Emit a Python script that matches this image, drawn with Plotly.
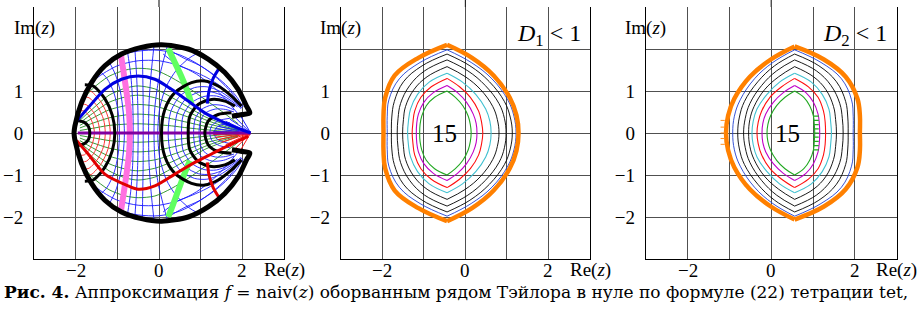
import plotly.graph_objects as go

W, H = 919, 309
FONT = "Liberation Serif"
CAPFONT = "DejaVu Serif"

# ---------------- Panel 1 data (upper halves; figure is mirror-symmetric) ----------------
BND_X = [1.75, 2.0, 2.18, 2.1, 1.9, 1.58, 1.18, 0.7, 0.06, -0.42, -0.9, -1.3, -1.62, -1.86, -2.02, -2.04]
BND_Y = [0.4, 0.44, 0.48, 0.64, 1.04, 1.44, 1.76, 2.0, 2.1, 2.04, 1.88, 1.6, 1.2, 0.72, 0.16, 0.0]

BLUE_X = [-1.98, -1.7, -1.3, -0.9, -0.5, -0.1, 0.3, 0.7, 1.1, 1.5, 1.98, 2.2]
BLUE_Y = [0.28, 0.6, 1.04, 1.28, 1.36, 1.28, 1.04, 0.76, 0.48, 0.28, 0.08, 0.0]
RED_X = [-1.98, -1.7, -1.3, -0.74, -0.5, -0.1, 0.38, 0.86, 1.26, 1.66, 2.14]
RED_Y = [-0.18, -0.5, -0.98, -1.26, -1.34, -1.26, -0.98, -0.7, -0.5, -0.3, -0.08]
BLUE2_X = [1.45, 1.3, 1.2, 1.16]
BLUE2_Y = [1.55, 1.3, 1.0, 0.7]
RED2_X = [1.16, 1.2, 1.3, 1.45]
RED2_Y = [-0.7, -1.0, -1.3, -1.55]
PINK_X = [-0.92, -0.85, -0.78, -0.72, -0.7, -0.72, -0.78, -0.85, -0.92]
PINK_Y = [1.9, 1.45, 0.98, 0.5, 0.0, -0.5, -0.98, -1.45, -1.9]
LG_X = [0.22, 0.38, 0.54, 0.68, 0.78]
LG_Y = [2.02, 1.68, 1.34, 1.0, 0.7]
LG2_X = [0.74, 0.6, 0.45, 0.3, 0.22]
LG2_Y = [-0.66, -1.0, -1.4, -1.8, -2.0]
AXIS_X = [-1.95, 2.2]
AXIS_Y = [0.0, 0.0]

BLK = [
    ([-1.06, -1.12, -1.3, -1.58, -1.78], [0.0, 0.42, 0.82, 1.12, 1.15]),
    ([-1.66, -1.69, -1.8, -1.96], [0.0, 0.15, 0.26, 0.3]),
    ([0.06, 0.14, 0.38, 0.78, 1.1, 1.42, 1.74, 1.98], [0.0, 0.56, 0.96, 1.2, 1.24, 1.12, 0.88, 0.64]),
    ([0.7, 0.74, 0.94, 1.26, 1.58, 1.82], [0.0, 0.4, 0.68, 0.8, 0.76, 0.64]),
    ([1.1, 1.18, 1.42, 1.74], [0.0, 0.28, 0.44, 0.48]),
]

# thin blue "vertical" family
VFAM = [
    ([-0.95, -0.98, -1.08, -1.25, -1.45], [0.0, 0.5, 0.95, 1.3, 1.5]),
    ([-0.83, -0.86, -0.93, -1.05, -1.2], [0.0, 0.5, 1.0, 1.4, 1.7]),
    ([-0.62, -0.63, -0.68, -0.76], [0.0, 0.7, 1.4, 1.96]),
    ([-0.5, -0.51, -0.54, -0.58], [0.0, 0.7, 1.4, 2.02]),
    ([-0.38, -0.38, -0.39, -0.4], [0.0, 0.7, 1.4, 2.05]),
    ([-0.25, -0.24, -0.19, -0.12], [0.0, 0.7, 1.4, 2.08]),
    ([-0.12, -0.1, -0.02, 0.1, 0.2], [0.0, 0.6, 1.2, 1.7, 2.07]),
    ([-0.03, 0.02, 0.17, 0.42, 0.72, 0.92], [0.0, 0.6, 1.1, 1.5, 1.78, 1.9]),
    ([0.22, 0.28, 0.5, 0.85, 1.15, 1.45, 1.75, 1.98], [0.0, 0.5, 0.88, 1.08, 1.1, 1.0, 0.8, 0.6]),
    ([0.38, 0.43, 0.63, 0.95, 1.25, 1.55, 1.8, 1.97], [0.0, 0.45, 0.8, 0.97, 0.98, 0.88, 0.72, 0.58]),
    ([0.54, 0.58, 0.78, 1.08, 1.38, 1.65, 1.88], [0.0, 0.42, 0.72, 0.87, 0.88, 0.78, 0.62]),
    ([0.83, 0.87, 1.02, 1.28, 1.55, 1.8], [0.0, 0.34, 0.56, 0.67, 0.65, 0.55]),
    ([0.96, 1.0, 1.12, 1.35, 1.6, 1.8], [0.0, 0.3, 0.48, 0.57, 0.56, 0.5]),
    ([1.22, 1.27, 1.45, 1.7], [0.0, 0.18, 0.3, 0.35]),
    ([1.32, 1.37, 1.5, 1.7], [0.0, 0.12, 0.2, 0.25]),
]
# outer arcs near the upper-right rim
RIM = [
    ([0.3, 0.6, 0.95, 1.3, 1.6, 1.85, 2.02], [1.95, 1.78, 1.62, 1.4, 1.15, 0.88, 0.62]),
    ([0.1, 0.45, 0.8, 1.15, 1.5, 1.8], [1.88, 1.62, 1.48, 1.32, 1.1, 0.82]),
]
# thin red arcs around the left point
AFAM = [
    ([-1.55, -1.58, -1.66, -1.79, -1.88], [0.0, 0.19, 0.38, 0.52, 0.53]),
    ([-1.42, -1.46, -1.57, -1.74, -1.86], [0.0, 0.25, 0.49, 0.67, 0.69]),
    ([-1.29, -1.33, -1.47, -1.68, -1.83], [0.0, 0.32, 0.62, 0.84, 0.86]),
    ([-1.17, -1.22, -1.38, -1.63, -1.8], [0.0, 0.37, 0.72, 0.99, 1.01]),
]
# thin green "horizontal" family
H_X = [-1.9, -1.6, -1.2, -0.8, -0.5, -0.1, 0.3, 0.7, 1.1, 1.5, 1.9]
HFAM_Y = [
    [0.06, 0.11, 0.18, 0.21, 0.22, 0.2, 0.17, 0.12, 0.08, 0.045, 0.016],
    [0.12, 0.23, 0.36, 0.43, 0.45, 0.42, 0.34, 0.25, 0.16, 0.09, 0.03],
    [0.18, 0.35, 0.55, 0.65, 0.68, 0.64, 0.52, 0.38, 0.24, 0.14, 0.05],
    [0.24, 0.46, 0.73, 0.86, 0.9, 0.84, 0.69, 0.5, 0.32, 0.18, 0.07],
    [0.3, 0.57, 0.9, 1.07, 1.12, 1.05, 0.85, 0.62, 0.39, 0.23, 0.08],
]
G_UP_X = [-1.85, -1.6, -1.2, -0.8, -0.5, -0.1, 0.3, 0.7, 1.1, 1.5, 1.9]
G_UP_Y = [0.75, 1.05, 1.35, 1.5, 1.54, 1.5, 1.32, 1.08, 0.8, 0.52, 0.22]
UFAM = [
    ([-1.75, -1.5, -1.0, -0.5, 0.0, 0.5, 0.9, 1.3, 1.6, 1.9], [1.0, 1.3, 1.6, 1.72, 1.72, 1.6, 1.4, 1.1, 0.8, 0.45]),
    ([-1.45, -1.0, -0.5, 0.0, 0.5, 1.0, 1.4, 1.75, 1.98], [1.5, 1.83, 1.95, 1.97, 1.86, 1.6, 1.3, 0.95, 0.6]),
]
FAN_TIP = (2.2, 0.0)
FAN_X = [1.3, 1.35, 1.42, 1.5, 1.6, 1.7, 1.82, 1.95]
FAN_Y = [0.04, 0.1, 0.16, 0.22, 0.28, 0.33, 0.38, 0.42]

# ---------------- Panels 2 and 3: nested level curves (top cusp -> y=0) ----------------
CONT_COLORS = ["#22a822", "#c000c8", "#ff1010", "#40c0d0", "#000000", "#000000", "#000000", "#2040d0", "#ff8000"]
CONT_WIDTHS = [1.1, 1.1, 1.1, 1.1, 0.9, 0.9, 0.9, 0.9, 4.5]

P2_Y = [
    [1.0, 0.85, 0.65, 0.4, 0.2, 0.0],
    [1.13, 0.96, 0.73, 0.45, 0.23, 0.0],
    [1.3, 1.1, 0.85, 0.52, 0.26, 0.0],
    [1.42, 1.21, 0.92, 0.57, 0.28, 0.0],
    [1.58, 1.34, 1.03, 0.63, 0.32, 0.0],
    [1.74, 1.48, 1.13, 0.7, 0.35, 0.0],
    [1.88, 1.6, 1.22, 0.75, 0.38, 0.0],
    [1.98, 1.68, 1.29, 0.79, 0.4, 0.0],
    [2.1, 1.79, 1.37, 0.84, 0.42, 0.0],
]
P2_LX = [
    [-0.44, -0.74, -0.94, -1.05, -1.09, -1.1],
    [-0.44, -0.77, -1.0, -1.13, -1.17, -1.18],
    [-0.44, -0.82, -1.07, -1.22, -1.26, -1.28],
    [-0.44, -0.87, -1.15, -1.32, -1.37, -1.39],
    [-0.44, -0.92, -1.24, -1.44, -1.49, -1.51],
    [-0.44, -0.98, -1.34, -1.56, -1.62, -1.64],
    [-0.44, -1.04, -1.49, -1.71, -1.77, -1.78],
    [-0.44, -1.09, -1.59, -1.84, -1.88, -1.88],
    [-0.44, -1.13, -1.7, -1.93, -1.97, -1.97],
]
P2_RX = [
    [-0.44, -0.24, -0.06, 0.07, 0.12, 0.14],
    [-0.44, -0.19, 0.03, 0.19, 0.26, 0.28],
    [-0.44, -0.14, 0.12, 0.32, 0.39, 0.42],
    [-0.44, -0.07, 0.25, 0.49, 0.59, 0.62],
    [-0.44, 0.0, 0.37, 0.66, 0.77, 0.81],
    [-0.44, 0.06, 0.48, 0.81, 0.94, 0.98],
    [-0.44, 0.11, 0.58, 0.94, 1.08, 1.13],
    [-0.44, 0.14, 0.64, 1.02, 1.17, 1.22],
    [-0.44, 0.16, 0.68, 1.07, 1.23, 1.28],
]
P3_Y = [
    [1.0, 0.85, 0.65, 0.4, 0.2, 0.0],
    [1.13, 0.96, 0.73, 0.45, 0.23, 0.0],
    [1.3, 1.1, 0.85, 0.52, 0.26, 0.0],
    [1.42, 1.21, 0.92, 0.57, 0.28, 0.0],
    [1.58, 1.34, 1.03, 0.63, 0.32, 0.0],
    [1.74, 1.48, 1.13, 0.7, 0.35, 0.0],
    [1.88, 1.6, 1.22, 0.75, 0.38, 0.0],
    [1.98, 1.68, 1.29, 0.79, 0.4, 0.0],
    [2.06, 1.75, 1.34, 0.82, 0.41, 0.0],
]
P3_LX = [
    [0.56, 0.33, 0.13, -0.02, -0.08, -0.1],
    [0.56, 0.29, 0.05, -0.13, -0.2, -0.22],
    [0.56, 0.25, -0.03, -0.23, -0.31, -0.34],
    [0.56, 0.2, -0.1, -0.34, -0.43, -0.46],
    [0.56, 0.18, -0.16, -0.41, -0.51, -0.54],
    [0.56, 0.13, -0.23, -0.51, -0.62, -0.66],
    [0.56, 0.08, -0.32, -0.64, -0.76, -0.8],
    [0.56, 0.04, -0.4, -0.74, -0.88, -0.92],
    [0.56, -0.01, -0.51, -0.88, -1.03, -1.08],
]
P3_RX = [
    [0.56, 0.78, 0.92, 1.01, 1.03, 1.04],
    [0.56, 0.83, 1.01, 1.12, 1.15, 1.16],
    [0.56, 0.89, 1.12, 1.25, 1.29, 1.3],
    [0.56, 0.96, 1.22, 1.38, 1.42, 1.44],
    [0.56, 1.01, 1.31, 1.49, 1.54, 1.56],
    [0.56, 1.08, 1.43, 1.64, 1.7, 1.72],
    [0.56, 1.14, 1.56, 1.78, 1.83, 1.84],
    [0.56, 1.19, 1.68, 1.92, 1.96, 1.96],
    [0.56, 1.26, 1.78, 2.06, 2.12, 2.12],
]
P3_DOT_X = [-1.16, -1.16, -1.16, -1.16, -1.16]
P3_DOT_Y = [0.3, 0.14, 0.0, -0.13, -0.27]
P3_TICK_X = [1.07] * 9
P3_TICK_Y = [-0.4, -0.3, -0.2, -0.1, 0.0, 0.1, 0.2, 0.3, 0.4]

LABEL_15 = [(-0.51, 0.0), (0.38, 0.0)]
TICKS = [-2, -1, 0, 1, 2]
XTICKTEXT = ["−2", "", "0", "", "2"]
YTICKTEXT = ["−2", "−1", "0", "1", " "]
RANGE = [-3, 3]

# ---------------- figure ----------------
fig = go.Figure()
AX = [("x", "y"), ("x2", "y2"), ("x3", "y3")]


def add(p, xs, ys, color, width, shape="spline", mode="lines", marker=None, smooth=0.8):
    xa, ya = AX[p]
    kw = dict(x=xs, y=ys, mode=mode, xaxis=xa, yaxis=ya, showlegend=False, hoverinfo="skip")
    if "lines" in mode:
        kw["line"] = dict(color=color, width=width, shape=shape, smoothing=smooth)
    if marker:
        kw["marker"] = marker
    fig.add_trace(go.Scatter(**kw))


def full(xs, ys):
    # lists start at y=0 and go up; returns top -> axis -> bottom
    return xs[::-1] + xs[1:], ys[::-1] + [-v for v in ys[1:]]


def pair(xs, ys):
    return xs + [None] + xs, ys + [None] + [-v for v in ys]


# Panel 1 mesh
for ys in HFAM_Y:
    add(0, *pair(H_X, ys), "#1e8c1e", 0.9)
add(0, *pair(G_UP_X, G_UP_Y), "#1e8c1e", 0.9)
for xs, ys in AFAM:
    add(0, *full(xs, ys), "#ff2020", 0.9)
for xs, ys in VFAM:
    add(0, *full(xs, ys), "#1a1aff", 0.9)
for xs, ys in UFAM + RIM:
    add(0, *pair(xs, ys), "#1a1aff", 0.9)
fx, fy = [], []
for x, y in zip(FAN_X, FAN_Y):
    fx += [FAN_TIP[0], x, None]
    fy += [FAN_TIP[1], y, None]
add(0, fx, fy, "#2020ff", 1.0, shape="linear")
add(0, fx, [None if v is None else -v for v in fy], "#ff1a1a", 1.0, shape="linear")
# thick curves
add(0, PINK_X, PINK_Y, "#ff70e0", 6)
add(0, LG_X, LG_Y, "#60ff60", 6)
add(0, LG2_X, LG2_Y, "#60ff60", 6)
add(0, AXIS_X, AXIS_Y, "#8000a0", 3.0, shape="linear")
for xs, ys in BLK:
    add(0, *full(xs, ys), "#000000", 3.0)
add(0, BLUE_X, BLUE_Y, "#0000e0", 3.0)
add(0, RED_X, RED_Y, "#e00000", 3.0)
add(0, BLUE2_X, BLUE2_Y, "#0000e0", 3.0)
add(0, RED2_X, RED2_Y, "#e00000", 3.0)
bx = BND_X + BND_X[::-1]
by = BND_Y + [-v for v in BND_Y[::-1]]
add(0, bx, by, "#000000", 5.0)

# Panels 2, 3
for p, LX, RX, YY in [(1, P2_LX, P2_RX, P2_Y), (2, P3_LX, P3_RX, P3_Y)]:
    for i in range(len(YY)):
        lx, ly = full(LX[i][::-1], YY[i][::-1])
        rx, ry = full(RX[i][::-1], YY[i][::-1])
        add(p, lx, ly, CONT_COLORS[i], CONT_WIDTHS[i], smooth=1.1)
        add(p, rx, ry, CONT_COLORS[i], CONT_WIDTHS[i], smooth=1.1)
add(2, P3_DOT_X, P3_DOT_Y, None, 0, mode="markers",
    marker=dict(symbol="line-ew", size=3, line=dict(color="#ff9020", width=1)))
add(2, P3_TICK_X, P3_TICK_Y, None, 0, mode="markers",
    marker=dict(symbol="line-ew", size=4, line=dict(color="#22a822", width=1.2)))

# ---------------- axes ----------------
XDOM = [(34 / W, 284 / W), (340.7 / W, 590 / W), (645.7 / W, 896.7 / W)]
YDOM = (1 - 259 / H, 1 - 7 / H)
LABEL_Y = 1 - 270 / H
axis_common = dict(range=RANGE, tickvals=TICKS, showgrid=True, gridcolor="#505050", gridwidth=1,
                   zeroline=False, showline=True, linecolor="#000000", linewidth=1, ticks="",
                   tickfont=dict(family=FONT, size=19, color="#000000"), fixedrange=True)
layout = dict(width=W, height=H, margin=dict(l=0, r=0, t=0, b=0),
              paper_bgcolor="white", plot_bgcolor="white")
for i in range(3):
    sx = "" if i == 0 else str(i + 1)
    layout["xaxis" + sx] = dict(axis_common, domain=list(XDOM[i]), anchor="y" + sx,
                                showticklabels=False, mirror=False)
    layout["yaxis" + sx] = dict(axis_common, domain=list(YDOM), anchor="x" + sx,
                                ticktext=YTICKTEXT, mirror=True, ticklabelstandoff=6)
fig.update_layout(**layout)

ann = []
shapes = []
for i in range(3):
    sx = "" if i == 0 else str(i + 1)
    for t, txt in zip(TICKS, XTICKTEXT):
        if txt:
            ann.append(dict(x=t, y=LABEL_Y, xref="x" + sx, yref="paper", text=txt, showarrow=False,
                            xanchor="center", yanchor="middle",
                            font=dict(family=FONT, size=19, color="#000")))
    ann.append(dict(x=XDOM[i][0], y=1 - 28 / H, xref="paper", yref="paper", text="Im(<i>z</i>)",
                    showarrow=False, xanchor="center", yanchor="middle",
                    font=dict(family=FONT, size=19, color="#000")))
    ann.append(dict(x=XDOM[i][1], y=LABEL_Y, xref="paper", yref="paper", text="Re(<i>z</i>)",
                    showarrow=False, xanchor="center", yanchor="middle",
                    font=dict(family=FONT, size=19, color="#000")))
    shapes.append(dict(type="line", xref="x" + sx, yref="paper", x0=0, x1=0, y0=YDOM[1], y1=1,
                       line=dict(color="#000", width=1)))
for i, (lx, ly) in enumerate(LABEL_15):
    sx = str(i + 2)
    ann.append(dict(x=lx, y=ly, xref="x" + sx, yref="y" + sx, text="15", showarrow=False,
                    xanchor="center", yanchor="middle",
                    font=dict(family=FONT, size=25, color="#000")))
ann.append(dict(x=549 / W, y=1 - 35 / H, xref="paper", yref="paper", xanchor="center", yanchor="middle",
                text="<i>D</i><sub>1</sub> &lt; 1", showarrow=False,
                font=dict(family=FONT, size=24, color="#000")))
ann.append(dict(x=855 / W, y=1 - 35 / H, xref="paper", yref="paper", xanchor="center", yanchor="middle",
                text="<i>D</i><sub>2</sub> &lt; 1", showarrow=False,
                font=dict(family=FONT, size=24, color="#000")))
ann.append(dict(x=0.002, y=1 - 292 / H, xref="paper", yref="paper", xanchor="left", yanchor="middle",
                text="<b>Рис. 4.</b> Аппроксимация <i>f</i> = naiv(<i>z</i>) оборванным рядом Тэйлора "
                     "в нуле по формуле (22) тетрации tet,",
                showarrow=False, font=dict(family=CAPFONT, size=17, color="#000")))
fig.update_layout(annotations=ann, shapes=shapes)

fig.write_html("out.html", config={"displayModeBar": False},
               post_script="document.body.style.margin='0px';document.body.style.padding='0px';")
